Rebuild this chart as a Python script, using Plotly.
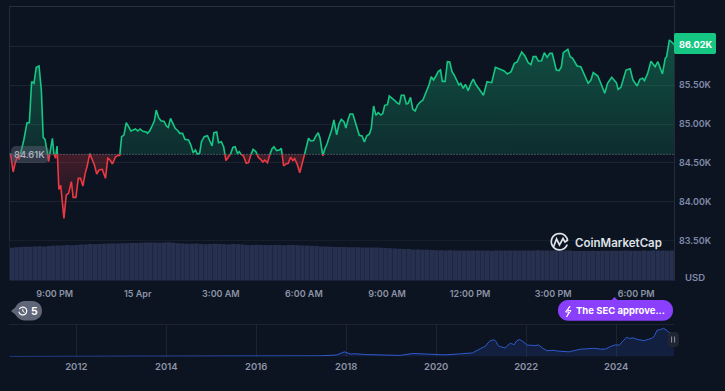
import math
import pandas as pd
import plotly.graph_objects as go

W, H = 725, 391
BG = "#0d1421"
GRID = "#1d2330"
BORDER = "#262b39"
TICK = "#7f8aa8"
XTICK = "#8b93a5"
GREEN = "#16c784"
RED = "#ea3943"

# minutes after 14 Apr 19:22
minutes = [2,8,12,17,21,25,31,38,43,48,53,58,64,69,73,77,81,85,89,93,96,100,103,107,111,118,123,128,134,138,144,149,154,159,164,168,174,179,184,189,194,201,208,213,218,223,230,235,239,243,248,253,259,263,268,273,278,283,289,296,299,304,310,314,318,323,328,335,340,344,349,354,359,365,369,375,380,388,393,398,403,407,412,416,422,429,434,439,443,449,453,459,464,469,474,479,484,489,494,498,
501,507,513,518,524,528,534,539,544,549,553,559,565,569,573,579,585,589,594,599,604,609,614,618,624,629,634,640,644,648,653,659,664,669,673,679,683,688,693,698,703,709,714,719,725,729,734,738,744,748,754,758,764,769,774,780,784,789,794,799,805,809,813,819,823,829,835,841,845,849,855,860,864,869,874,879,884,890,896,900,904,909,914,919,924,929,934,938,944,949,954,959,964,970,974,978,983,988,994,1000,1005,1010,1016,1022,
1027,1035,1045,1053,1062,1072,1079,1087,1094,1100,1110,1117,1124,1130,1135,1141,1146,1153,1159,1165,1171,1176,1185,1191,1196,1200,1210,1215,1220,1230,1238,1246,1254,1260,1265,1275,1282,1290,1296,1305,1315,1319,1325,1336,1345,1351,1360,1366,1372,1376,1383,1390,1399,1405,1415,1421,1424,1430,1435,1441]
# BTC price, thousands of USD
prices = [84.623,84.383,84.494,84.58,84.546,84.645,84.795,85.018,85.018,85.547,85.525,85.731,85.748,85.439,84.829,84.803,84.666,84.516,84.687,84.816,84.623,84.559,84.718,84.159,84.211,83.785,84.086,84.108,84.258,84.056,84.056,84.301,84.301,84.202,84.365,84.451,84.619,84.546,84.473,84.357,84.408,84.417,84.301,84.559,84.537,84.486,84.58,84.597,84.597,84.838,84.859,85.018,84.958,84.911,84.924,84.937,84.911,84.937,84.907,84.898,84.881,84.915,84.988,85.044,85.181,85.087,85.044,85.035,84.975,84.958,85.074,85.018,84.945,84.915,84.881,84.881,84.803,84.795,84.73,84.632,84.666,84.614,84.623,84.773,84.838,84.851,84.795,84.718,84.889,84.898,84.761,84.773,84.709,84.529,84.572,84.614,84.70,84.709,84.623,84.645,
84.615,84.589,84.495,84.503,84.623,84.675,84.645,84.572,84.546,84.512,84.537,84.503,84.623,84.683,84.709,84.658,84.666,84.688,84.46,84.486,84.495,84.572,84.529,84.555,84.473,84.374,84.495,84.623,84.718,84.817,84.782,84.787,84.847,84.89,84.817,84.589,84.675,84.744,84.83,84.924,85.053,84.86,85.002,85.062,85.027,84.95,85.062,85.13,85.13,85.044,84.924,84.855,84.847,84.77,84.847,84.872,84.945,85.233,85.113,85.147,85.117,85.139,85.242,85.25,85.362,85.336,85.302,85.268,85.259,85.371,85.371,85.259,85.268,85.345,85.19,85.169,85.242,85.285,85.31,85.371,85.431,85.504,85.611,85.568,85.62,85.676,85.697,85.551,85.551,85.805,85.80,85.676,85.629,85.547,85.504,85.525,85.461,85.513,85.431,85.525,85.581,85.517,85.461,85.41,
85.371,85.547,85.534,85.732,85.706,85.684,85.646,85.676,85.783,85.80,85.929,85.877,85.792,85.766,85.869,85.869,85.813,85.817,85.92,85.86,85.912,85.912,85.697,85.689,85.74,85.92,85.963,85.869,85.852,85.749,85.74,85.633,85.525,85.568,85.663,85.62,85.517,85.397,85.525,85.603,85.534,85.448,85.474,85.697,85.714,85.568,85.491,85.577,85.59,85.56,85.654,85.809,85.74,85.804,85.646,85.848,85.869,86.084,86.058,86.02]
baseline = 84.61

# 10-minute volume, arbitrary height units
volumes = [33.0,33.4,33.7,34.0,33.9,34.2,34.4,34.3,34.6,34.9,35.1,35.3,35.6,35.4,35.8,36.1,36.3,36.6,36.4,36.8,37.0,37.2,37.1,37.3,37.4,37.5,37.7,37.6,37.9,38.2,38.3,38.1,37.9,38.2,38.4,38.0,37.4,37.2,36.9,37.0,37.2,36.8,36.5,36.6,36.9,36.7,36.4,36.3,36.6,36.5,36.2,
35.7,35.8,35.9,35.7,35.6,35.8,35.7,35.6,35.5,35.6,35.7,35.5,35.3,35.2,34.9,34.6,34.3,34.1,33.9,33.7,33.8,33.6,33.5,33.4,33.5,33.3,33.2,33.3,33.1,33.0,32.8,32.5,32.2,31.9,31.8,31.6,31.3,31.1,31.0,30.9,30.7,30.5,30.4,30.3,30.4,30.3,30.2,30.3,30.2,30.1,30.2,30.3,30.1,30.0,30.2,30.1,30.3,30.2,30.1,30.2,30.3,30.2,30.3,30.4,30.3,30.2,30.3,30.4,30.3,30.2,30.1,29.7,29.6,29.7,29.8,29.9,29.8,29.9,30.0,29.9,30.0,29.9,30.1,30.0,29.9,30.0,30.1,30.0,30.1,30.2,30.1,30.0,30.1]

hist_dates = ["2010-07-08","2011-06-08","2012-06-01","2013-04-01","2013-12-01","2014-06-01","2015-01-15","2016-01-01","2016-12-01","2017-06-01","2017-10-15","2017-12-17","2018-02-05","2018-03-10","2018-06-15","2018-11-25","2019-03-15","2019-06-25","2019-08-20","2019-10-15","2020-03-15","2020-07-10","2020-10-20","2020-12-28","2021-01-20","2021-02-05","2021-02-25","2021-03-15","2021-04-01","2021-04-15","2021-05-01","2021-05-20","2021-06-05","2021-06-25","2021-07-15","2021-08-05","2021-08-25","2021-09-10","2021-09-25","2021-10-15","2021-11-05","2021-11-25","2021-12-15","2022-01-10","2022-02-05","2022-03-10","2022-04-12","2022-05-15","2022-06-20","2022-08-10","2022-09-10","2022-11-10","2022-12-15","2023-02-10","2023-03-20","2023-05-10","2023-07-05","2023-08-25","2023-10-05","2023-11-15","2023-12-28","2024-01-25","2024-03-05","2024-03-25","2024-04-20","2024-05-20","2024-06-25","2024-08-15","2024-09-20","2024-10-20","2024-11-10","2024-11-28","2024-12-25","2025-01-20","2025-02-10","2025-03-05","2025-04-15"]
hist_values = [0.1,0.1,0.1,0.2,1.0,0.6,0.3,0.4,0.8,2.5,5.5,17.0,9.0,10.0,7.0,4.0,4.0,11.0,10.0,8.0,6.0,9.5,13.0,29.0,33.0,38.0,50.0,58.0,59.0,62.0,54.0,39.0,36.0,33.0,31.0,41.0,48.0,46.0,43.0,57.0,62.0,58.0,50.0,42.0,41.0,40.0,42.0,30.0,21.0,23.0,20.0,17.0,17.0,23.0,27.0,28.0,30.0,27.0,27.0,36.0,43.0,41.0,63.0,70.0,66.0,68.0,62.0,58.0,63.0,67.0,78.0,96.0,98.0,103.0,97.0,88.0,85.0]

price_ticks = [83.5,84.0,84.5,85.0,85.5,86.0]
price_tick_text = ["83.50K","84.00K","84.50K","85.00K","85.50K",""]
time_ticks = ["2025-04-14 21:00","2025-04-15 00:00","2025-04-15 03:00","2025-04-15 06:00","2025-04-15 09:00","2025-04-15 12:00","2025-04-15 15:00","2025-04-15 18:00"]
time_tick_text = ["9:00 PM","15 Apr","3:00 AM","6:00 AM","9:00 AM","12:00 PM","3:00 PM","6:00 PM"]
year_ticks = ["2012-01-01","2014-01-01","2016-01-01","2018-01-01","2020-01-01","2022-01-01","2024-01-01"]
year_tick_text = ["2012","2014","2016","2018","2020","2022","2024"]

start = pd.Timestamp("2025-04-14 19:22")
def t(m):
    return start + pd.to_timedelta(m, unit="m")

# split the price line at the baseline
xs, ys = [], []
for i, (m, p) in enumerate(zip(minutes, prices)):
    if i:
        m0, p0 = minutes[i-1], prices[i-1]
        if (p0 - baseline) * (p - baseline) < 0:
            xs.append(m0 + (m - m0) * (baseline - p0) / (p - p0))
            ys.append(baseline)
    xs.append(m)
    ys.append(p)
times = [t(m) for m in xs]
up = [max(v, baseline) for v in ys]
down = [min(v, baseline) for v in ys]
line_up = [v if v >= baseline else None for v in ys]
line_down = [v if v <= baseline else None for v in ys]

px = lambda x: x / W
py = lambda y: 1 - y / H
FONT = "Inter, 'Noto Sans', sans-serif"

fig = go.Figure()
vol_times = [t(10 * i + 5) for i in range(len(volumes))]
fig.add_trace(go.Bar(x=vol_times, y=volumes, yaxis="y3", marker=dict(color="#27314f", line=dict(width=0)), width=600000*0.97, hoverinfo="skip"))
fig.add_trace(go.Scatter(x=times, y=[baseline]*len(times), mode="lines", line=dict(width=0), hoverinfo="skip"))
fig.add_trace(go.Scatter(x=times, y=up, mode="lines", line=dict(width=0), fill="tonexty", hoverinfo="skip",
    fillgradient=dict(type="vertical", colorscale=[[0,"rgba(22,199,132,0.14)"],[1,"rgba(22,199,132,0.33)"]])))
fig.add_trace(go.Scatter(x=times, y=[baseline]*len(times), mode="lines", line=dict(width=0), hoverinfo="skip"))
fig.add_trace(go.Scatter(x=times, y=down, mode="lines", line=dict(width=0), fill="tonexty", hoverinfo="skip",
    fillgradient=dict(type="vertical", colorscale=[[0,"rgba(234,57,67,0.03)"],[1,"rgba(234,57,67,0.24)"]])))
fig.add_trace(go.Scatter(x=[t(0), t(1440)], y=[baseline, baseline], mode="lines", line=dict(color="#7d8494", width=1, dash="1px 2px"), hoverinfo="skip"))
fig.add_trace(go.Scatter(x=times, y=line_up, mode="lines", line=dict(color=GREEN, width=1.6), connectgaps=False, hoverinfo="skip"))
fig.add_trace(go.Scatter(x=times, y=line_down, mode="lines", line=dict(color=RED, width=1.6), connectgaps=False, hoverinfo="skip"))
fig.add_trace(go.Scatter(x=hist_dates, y=hist_values, xaxis="x2", yaxis="y2", mode="lines", line=dict(color="#2f5acb", width=1),
    fill="tozeroy", fillcolor="rgba(56,97,251,0.14)", hoverinfo="skip"))

def seg(x0, y0, x1, y1, color, w=1, layer="below"):
    return dict(type="line", xref="paper", yref="paper", x0=px(x0), x1=px(x1), y0=py(y0), y1=py(y1), line=dict(color=color, width=w), layer=layer)

def path(points, close=False):
    s = "M" + " L".join(f"{px(a):.5f},{py(b):.5f}" for a, b in points)
    return s + (" Z" if close else "")

def rrect(x0, y0, x1, y1, r):
    pts = []
    for cx, cy, a0 in [(x1-r, y0+r, -90), (x1-r, y1-r, 0), (x0+r, y1-r, 90), (x0+r, y0+r, 180)]:
        for k in range(9):
            a = math.radians(a0 + k * 90 / 8)
            pts.append((cx + r * math.cos(a), cy + r * math.sin(a)))
    return pts

def fill_shape(points, color):
    return dict(type="path", xref="paper", yref="paper", path=path(points, True), fillcolor=color, line=dict(width=0), layer="above")

def stroke_shape(points, color, w=1.5):
    return dict(type="path", xref="paper", yref="paper", path=path(points), line=dict(color=color, width=w), layer="above")

def arc(cx, cy, r, a0, a1, n=28):
    return [(cx + r*math.cos(math.radians(a0+(a1-a0)*k/n)), cy + r*math.sin(math.radians(a0+(a1-a0)*k/n))) for k in range(n+1)]

shapes = [
    seg(9, 6.5, 674, 6.5, "#2a2f3d"),
    seg(9.5, 6, 9.5, 280, BORDER),
    seg(674.5, 0, 674.5, 281, BORDER),
    seg(9, 324.5, 674, 324.5, GRID),
    fill_shape(rrect(674, 33, 716, 54, 2), GREEN),
    fill_shape(rrect(11, 146, 49, 163, 5), "rgba(105,110,130,0.40)"),
    # history bubble
    fill_shape(rrect(15, 301, 42, 320.5, 9.7) , "#5f6678"),
    fill_shape([(11, 311), (17, 306), (17, 316)], "#5f6678"),
    stroke_shape(arc(22.8, 311, 3.9, -150, 170), "#ffffff", 1.2),
    stroke_shape([(22.8, 308.8), (22.8, 311.3), (24.6, 312.4)], "#ffffff", 1),
    # event bubble
    fill_shape(rrect(558, 300, 673, 320.7, 10), "#8a3ffc"),
    fill_shape([(611, 300.5), (614.5, 297), (618, 300.5)], "#8a3ffc"),
    stroke_shape([(570, 306), (565.5, 312), (569, 312), (566.5, 317), (571, 310.5), (567.5, 310.5), (570, 306)], "#ffffff", 1),
    # navigator handle
    fill_shape(rrect(667.5, 332, 679, 347, 4), "#1f2533"),
    stroke_shape([(671.6, 336.5), (671.6, 342.5)], "#8b93a5", 1),
    stroke_shape([(674.6, 336.5), (674.6, 342.5)], "#8b93a5", 1),
    # CoinMarketCap mark
    stroke_shape(arc(559.5, 241.7, 8.2, 20, 350), "#dfe2e8", 1.7),
    stroke_shape([(553.5, 247), (556.5, 239), (559.5, 245), (563, 238.5), (565, 242), (568, 240)], "#dfe2e8", 1.7),
]

def note(x, y, text, color, size=9, weight=500, anchor="center"):
    return dict(x=px(x), y=py(y), xref="paper", yref="paper", text=text, showarrow=False, xanchor=anchor, yanchor="middle",
                font=dict(family=FONT, size=size, color=color, weight=weight), borderpad=0)

annotations = [
    note(695.5, 44.5, "86.02K", "#ffffff", 9.2, 700),
    note(29.5, 154.5, "84.61K", "#a9aeba", 9.2, 600),
    note(695, 277, "USD", TICK, 9.5, 600),
    note(34.5, 311.2, "5", "#ffffff", 10.5, 700),
    note(620, 310.5, "The SEC approve...", "#ffffff", 9.5, 700),
    note(618.5, 243, "CoinMarketCap", "#dfe2e8", 11.5, 600),
]

axis_off = dict(showgrid=False, zeroline=False, showline=False, ticks="")
fig.update_layout(
    width=W, height=H, autosize=False, showlegend=False,
    paper_bgcolor=BG, plot_bgcolor=BG, margin=dict(l=0, r=0, t=0, b=0),
    barmode="overlay", shapes=shapes, annotations=annotations,
    font=dict(family=FONT),
    xaxis=dict(domain=[px(9.5), px(674)], range=[t(0), t(1440)], tickvals=time_ticks, ticktext=time_tick_text, anchor="y3",
               tickfont=dict(size=9, color=XTICK, family=FONT, weight=600), ticklabelstandoff=6, **axis_off),
    yaxis=dict(domain=[py(280), py(6.5)], range=[86-(280-46.5)/77.6, 86+(46.5-6.5)/77.6], side="right", anchor="x",
               tickvals=price_ticks, ticktext=price_tick_text, showgrid=True, gridcolor=GRID, gridwidth=1, zeroline=False, showline=False, ticks="",
               tickfont=dict(size=9, color=TICK, family=FONT, weight=600), ticklabelstandoff=4),
    yaxis3=dict(domain=[py(280.7), py(240.7)], range=[0, 40], anchor="x", showticklabels=False, **axis_off),
    xaxis2=dict(domain=[px(9.5), px(674)], range=["2010-07-08", "2025-04-15"], anchor="y2", tickvals=year_ticks, ticktext=year_tick_text,
                showgrid=True, gridcolor=GRID, gridwidth=1, zeroline=False, showline=False, ticks="",
                tickfont=dict(size=9.5, color=XTICK, family=FONT, weight=600), ticklabelstandoff=3),
    yaxis2=dict(domain=[py(356.5), py(324.5)], range=[0, 117], anchor="x2", showticklabels=False, **axis_off),
)

fig.write_html("out.html", config=dict(displayModeBar=False),
               post_script=f"document.body.style.margin='0';document.body.style.background='{BG}';document.documentElement.style.overflow='hidden';")
